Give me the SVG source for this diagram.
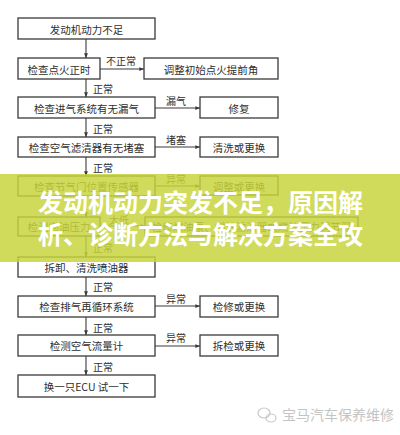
<svg xmlns="http://www.w3.org/2000/svg" width="400" height="435" viewBox="0 0 400 435">
<style>
.b{fill:#fff;stroke:#3a3a3a;stroke-width:1.3}
.t{font-family:"Noto Sans CJK SC","Noto Sans",sans-serif;font-size:10.5px;fill:#2e2e2e;text-anchor:middle;dominant-baseline:central}
.l{font-family:"Noto Sans CJK SC","Noto Sans",sans-serif;font-size:10px;fill:#2e2e2e;text-anchor:middle;dominant-baseline:central}
.c{stroke:#3a3a3a;stroke-width:1.1;fill:none;marker-end:url(#a)}
.h{font-family:"Noto Sans CJK SC",sans-serif;font-size:25px;font-weight:bold;fill:#fff}
</style>
<defs>
<marker id="a" viewBox="0 0 8 8" refX="7.5" refY="4" markerWidth="5" markerHeight="5" orient="auto" markerUnits="userSpaceOnUse">
<path d="M0,1 L8,4 L0,7 z" fill="#3a3a3a"/>
</marker>
</defs>
<rect width="400" height="435" fill="#fff"/>
<g id="connectors">
<line class="c" x1="86" y1="39" x2="86" y2="58"/>
<line class="c" x1="100" y1="69" x2="144" y2="69"/>
<line class="c" x1="86" y1="79" x2="86" y2="97"/>
<line class="c" x1="155" y1="108" x2="200" y2="108"/>
<line class="c" x1="86" y1="118" x2="86" y2="137"/>
<line class="c" x1="155" y1="147" x2="200" y2="147"/>
<line class="c" x1="86" y1="157" x2="86" y2="176"/>
<line class="c" x1="155" y1="186" x2="200" y2="186"/>
<line class="c" x1="86" y1="196" x2="86" y2="217"/>
<line class="c" x1="100" y1="226" x2="145" y2="226"/>
<line class="c" x1="86" y1="236" x2="86" y2="257"/>
<line class="c" x1="86" y1="277" x2="86" y2="296"/>
<line class="c" x1="155" y1="306" x2="200" y2="306"/>
<line class="c" x1="86" y1="317" x2="86" y2="335"/>
<line class="c" x1="155" y1="346" x2="200" y2="346"/>
<line class="c" x1="86" y1="356" x2="86" y2="375"/>
<text class="l" x="121" y="60">不正常</text>
<text class="l" x="103" y="88">正常</text>
<text class="l" x="176" y="100">漏气</text>
<text class="l" x="103" y="128">正常</text>
<text class="l" x="176" y="139">堵塞</text>
<text class="l" x="103" y="167">正常</text>
<text class="l" x="176" y="178">异常</text>
<text class="l" x="119" y="219">太低</text>
<text class="l" x="103" y="247">正常</text>
<text class="l" x="103" y="286">正常</text>
<text class="l" x="176" y="298">异常</text>
<text class="l" x="103" y="327">正常</text>
<text class="l" x="176" y="337">异常</text>
<text class="l" x="103" y="366">正常</text>
</g>
<g id="n1"><rect class="b" x="18" y="18" width="137" height="21"/><text class="t" x="86.5" y="29">发动机动力不足</text></g>
<g id="n2"><rect class="b" x="18" y="58" width="82" height="21"/><text class="t" x="59" y="69">检查点火正时</text></g>
<g id="n3"><rect class="b" x="144" y="58" width="134" height="21"/><text class="t" x="211" y="69">调整初始点火提前角</text></g>
<g id="n4"><rect class="b" x="18" y="97" width="137" height="21"/><text class="t" x="86.5" y="108">检查进气系统有无漏气</text></g>
<g id="n5"><rect class="b" x="200" y="97" width="78" height="21"/><text class="t" x="239" y="108">修复</text></g>
<g id="n6"><rect class="b" x="18" y="137" width="137" height="20"/><text class="t" x="86.5" y="147">检查空气滤清器有无堵塞</text></g>
<g id="n7"><rect class="b" x="200" y="137" width="78" height="20"/><text class="t" x="239" y="147">清洗或更换</text></g>
<g id="n8"><rect class="b" x="18" y="176" width="137" height="20"/><text class="t" x="86.5" y="186">检查节气门位置传感器</text></g>
<g id="n9"><rect class="b" x="200" y="176" width="78" height="19"/><text class="t" x="239" y="186">调整或更换</text></g>
<g id="n10"><rect class="b" x="18" y="217" width="82" height="19"/><text class="t" x="59" y="226.5">检测燃油压力</text></g>
<g id="n11"><rect class="b" x="145" y="217" width="213" height="19"/><text class="t" x="251.5" y="226.5">检修燃油泵、燃油滤清器或燃油压力调节器</text></g>
<g id="n12"><rect class="b" x="18" y="257" width="137" height="20"/><text class="t" x="86.5" y="267">拆卸、清洗喷油器</text></g>
<g id="n13"><rect class="b" x="18" y="296" width="137" height="21"/><text class="t" x="86.5" y="306.5">检查排气再循环系统</text></g>
<g id="n14"><rect class="b" x="200" y="296" width="78" height="21"/><text class="t" x="239" y="306.5">检修或更换</text></g>
<g id="n15"><rect class="b" x="18" y="335" width="137" height="21"/><text class="t" x="86.5" y="345.5">检测空气流量计</text></g>
<g id="n16"><rect class="b" x="200" y="335" width="78" height="21"/><text class="t" x="239" y="345.5">拆检或更换</text></g>
<g id="n17"><rect class="b" x="18" y="375" width="137" height="22"/><text class="t" x="86.5" y="386">换一只ECU 试一下</text></g>
<g id="watermark">
<ellipse cx="264" cy="413" rx="6" ry="5" fill="none" stroke="#c8c8c8" stroke-width="1.2"/>
<ellipse cx="271" cy="418" rx="5" ry="4" fill="none" stroke="#c8c8c8" stroke-width="1.2"/>
<text x="282" y="420" font-family="'Noto Sans CJK SC',sans-serif" font-size="14" fill="#c4c4c4">宝马汽车保养维修</text>
</g>
<g id="banner">
<rect x="0" y="174" width="400" height="88" fill="#c8d43c" opacity="0.84"/>
<text class="h" x="38" y="212">发动机动力突发不足，原因解</text>
<text class="h" x="38" y="244">析、诊断方法与解决方案全攻</text>
</g>
</svg>
